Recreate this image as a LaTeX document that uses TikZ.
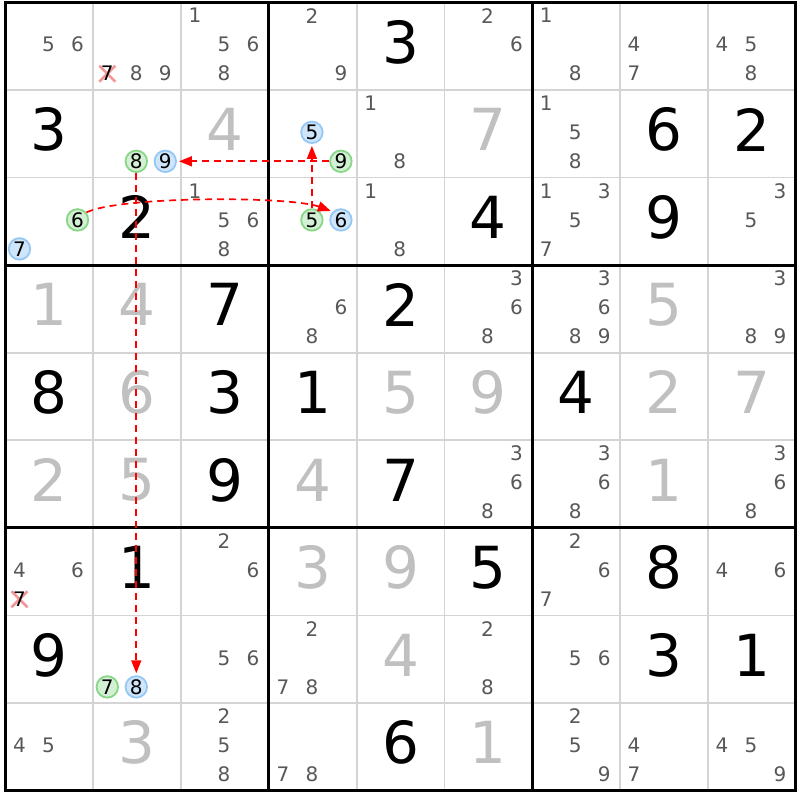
\documentclass[tikz,border=0pt]{standalone}
\usepackage{fontspec}
\setmainfont{DejaVu Sans}
\usetikzlibrary{arrows.meta}
\definecolor{candgray}{RGB}{88,88,88}
\definecolor{solvgray}{RGB}{192,192,192}
\definecolor{thingrid}{RGB}{212,212,212}
\definecolor{gfill}{RGB}{212,240,212}
\definecolor{gline}{RGB}{135,215,135}
\definecolor{bfill}{RGB}{207,229,250}
\definecolor{bline}{RGB}{150,200,245}
\definecolor{xred}{RGB}{242,150,150}
\begin{document}
\begin{tikzpicture}[x=1pt,y=-1pt,
  bigdigit/.style={font=\fontsize{58}{60}\selectfont, inner sep=0pt},
  given/.style={bigdigit, text=black},
  solved/.style={bigdigit, text=solvgray},
  cand/.style={font=\fontsize{20}{21}\selectfont, inner sep=0pt, text=candgray},
  candblack/.style={cand, text=black},
  gcirc/.style={circle, draw=gline, fill=gfill, line width=1.8pt, minimum size=21.5pt, inner sep=0pt, font=\fontsize{20}{21}\selectfont, text=black},
  bcirc/.style={gcirc, draw=bline, fill=bfill},
  link/.style={draw=red, line width=1.7pt, dash pattern=on 7pt off 5pt, shorten >=2pt, -{Triangle[length=13pt,width=10pt]}},
  gridthin/.style={draw=thingrid, line width=1.8pt},
  gridthick/.style={draw=black, line width=3pt},
  xmark/.style={draw=xred, line width=2.6pt}
]
\useasboundingbox (0,0) rectangle (800,800);
\fill[white] (0,0) rectangle (800,800);
% grid
\foreach \i in {1,2,4,5,7,8} {
  \draw[gridthin] ({5.5+87.8*\i},2.2) -- ({5.5+87.8*\i},790.6);
  \draw[gridthin] (5.5,{2.2+87.6*\i}) -- (795.7,{2.2+87.6*\i});
}
\foreach \i in {3,6} {
  \draw[gridthick] ({5.5+87.8*\i},2.2) -- ({5.5+87.8*\i},790.6);
  \draw[gridthick] (5.5,{2.2+87.6*\i}) -- (795.7,{2.2+87.6*\i});
}
\draw[gridthick] (5.5,2.2) rectangle (795.7,790.6);
% given digits
\foreach \r/\c/\d in {0/4/3, 1/0/3, 1/7/6, 1/8/2, 2/1/2, 2/5/4, 2/7/9, 3/2/7, 3/4/2,
  4/0/8, 4/2/3, 4/3/1, 4/6/4, 5/2/9, 5/4/7, 6/1/1, 6/5/5, 6/7/8, 7/0/9, 7/7/3, 7/8/1, 8/4/6}
  \node[given] (v-\r-\c) at ({49.4+87.8*\c},{42+87.6*\r}) {\d};
% solved digits
\foreach \r/\c/\d in {1/2/4, 1/5/7, 3/0/1, 3/1/4, 3/7/5, 4/1/6, 4/4/5, 4/5/9, 4/7/2, 4/8/7,
  5/0/2, 5/1/5, 5/3/4, 5/7/1, 6/3/3, 6/4/9, 7/4/4, 8/1/3, 8/5/1}
  \node[solved] (v-\r-\c) at ({49.4+87.8*\c},{42+87.6*\r}) {\d};
% candidates
\foreach \r/\c/\ds in {0/0/{5,6}, 0/1/{8,9}, 0/2/{1,5,6,8}, 0/3/{2,9}, 0/5/{2,6}, 0/6/{1,8},
  0/7/{4,7}, 0/8/{4,5,8}, 1/4/{1,8}, 1/6/{1,5,8}, 2/2/{1,5,6,8}, 2/4/{1,8}, 2/6/{1,3,5,7},
  2/8/{3,5}, 3/3/{6,8}, 3/5/{3,6,8}, 3/6/{3,6,8,9}, 3/8/{3,8,9}, 5/5/{3,6,8}, 5/6/{3,6,8},
  5/8/{3,6,8}, 6/0/{4,6}, 6/2/{2,6}, 6/6/{2,6,7}, 6/8/{4,6}, 7/2/{5,6}, 7/3/{2,7,8},
  7/5/{2,8}, 7/6/{5,6}, 8/0/{4,5}, 8/2/{2,5,8}, 8/3/{7,8}, 8/6/{2,5,9}, 8/7/{4,7}, 8/8/{4,5,9}} {
  \foreach \d in \ds {
    \pgfmathsetmacro\px{19.5+87.8*\c+29*mod(\d-1,3)}
    \pgfmathsetmacro\py{15.7+87.6*\r+29*int((\d-1)/3)}
    \node[cand] (k-\r-\c-\d) at (\px,\py) {\d};
  }
}
% eliminated candidates
\draw[xmark] (99.3,65.7) -- (115.3,81.7) (115.3,65.7) -- (99.3,81.7);
\node[candblack] (k-0-1-7) at (107.3,73.7) {7};
\draw[xmark] (11.5,591.3) -- (27.5,607.3) (27.5,591.3) -- (11.5,607.3);
\node[candblack] (k-6-0-7) at (19.5,599.3) {7};
% highlighted candidates
\node[gcirc] (k-1-1-8) at (136.3,161.3) {8};
\node[bcirc] (k-1-1-9) at (165.3,161.3) {9};
\node[bcirc] (k-1-3-5) at (311.9,132.3) {5};
\node[gcirc] (k-1-3-9) at (340.9,161.3) {9};
\node[gcirc] (k-2-0-6) at (77.5,219.9) {6};
\node[bcirc] (k-2-0-7) at (19.5,248.9) {7};
\node[gcirc] (k-2-3-5) at (311.9,219.9) {5};
\node[bcirc] (k-2-3-6) at (340.9,219.9) {6};
\node[gcirc] (k-7-1-7) at (107.3,686.9) {7};
\node[bcirc] (k-7-1-8) at (136.3,686.9) {8};
% links
\draw[link] (k-1-3-9) -- (k-1-1-9);
\draw[link] (k-2-3-5) -- (k-1-3-5);
\draw[link] (k-2-0-6.40) .. controls (120,196) and (290,196) .. (k-2-3-6.135);
\draw[link] (k-1-1-8) -- (k-7-1-8);
\end{tikzpicture}
\end{document}
